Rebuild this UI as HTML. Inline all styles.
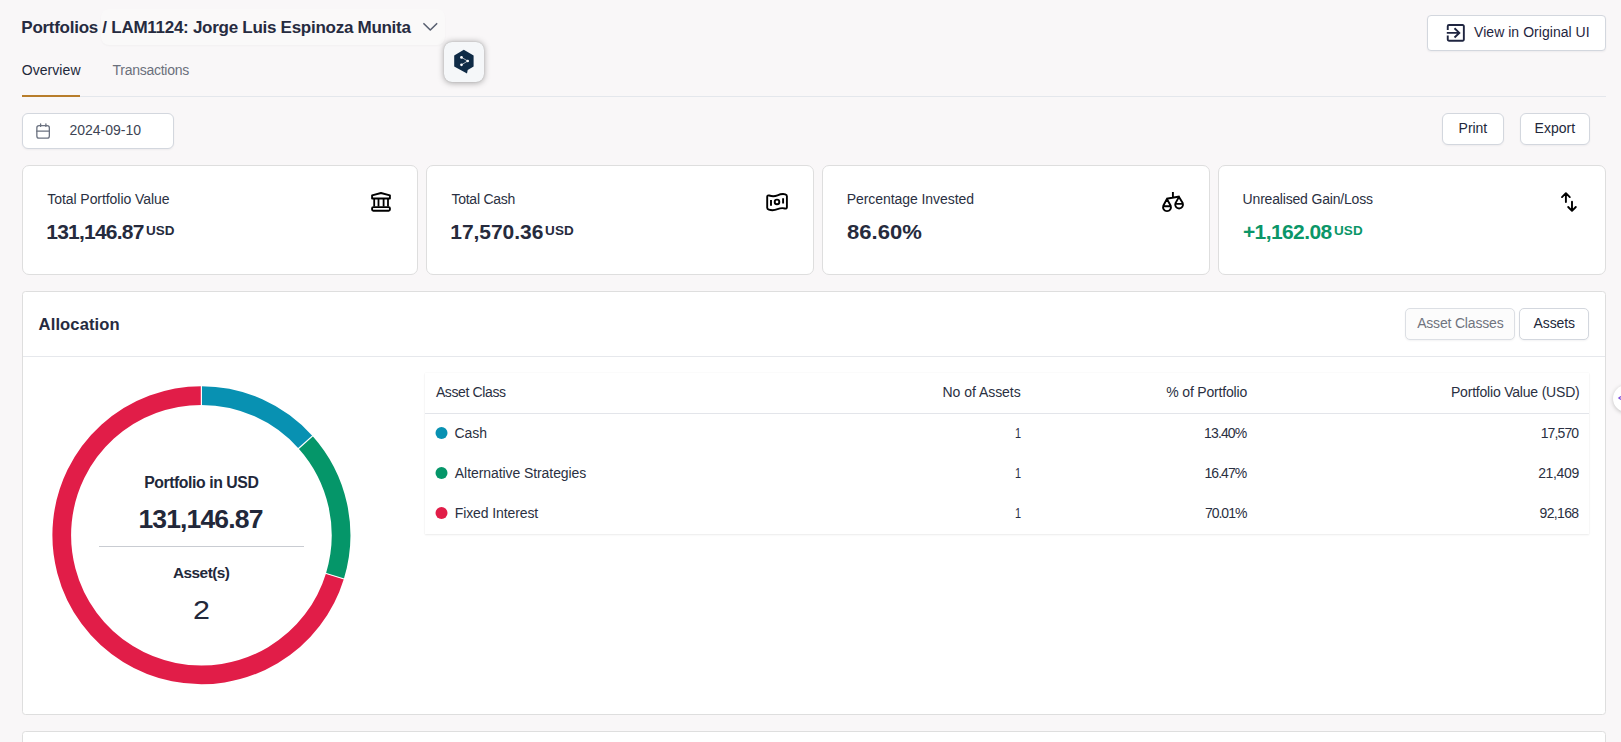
<!DOCTYPE html>
<html>
<head>
<meta charset="utf-8">
<title>Portfolio</title>
<style>
*{box-sizing:border-box;margin:0;padding:0}
html,body{width:1621px;height:742px;overflow:hidden;background:#f9f7f8;font-family:"Liberation Sans",sans-serif;color:#22283a}
.abs{position:absolute}
.t{position:absolute;white-space:nowrap;line-height:1}
.crumbbox{left:101px;top:9px;width:344px;height:36px;border-radius:8px;background:#faf9f9;box-shadow:0 1px 2px rgba(0,0,0,.03)}
.fab{left:444px;top:41.500px;width:40px;height:40px;border-radius:8px;background:#f5f7f9;box-shadow:0 0 1px rgba(0,0,0,.22),0 0.5px 6px rgba(0,0,0,.34)}
.tabline{left:22px;top:96px;width:1584px;height:1px;background:#e4e7ec}
.tabact{left:22px;top:95px;width:58px;height:2px;background:#b87d2b}
.box{position:absolute;background:#fff;border:1px solid #d3d7de;border-radius:6px;box-shadow:0 1px 2px rgba(16,24,40,.05)}
.card{position:absolute;top:165px;height:110px;background:#fff;border:1px solid #dedede;border-radius:7px}
.panel{position:absolute;left:22px;width:1584px;background:#fff;border:1px solid #dedede;border-radius:3.500px}
.dot{position:absolute;width:12px;height:12px;border-radius:50%}
</style>
</head>
<body>
<!-- header -->
<div class="abs crumbbox"></div>
<svg class="abs" style="left:421px;top:20px" width="18" height="14" viewBox="0 0 18 14"><path d="M2.9 3.7 L9.3 10 L15.7 3.7" fill="none" stroke="#596071" stroke-width="1.6" stroke-linecap="round" stroke-linejoin="round"/></svg>

<div class="abs fab"></div>
<svg class="abs" style="left:444px;top:41px" width="40" height="42" viewBox="444 41 40 42">
<path d="M463.800 49.800 L473.600 55.400 V66.600 L467.700 70 L467 73.500 L454.200 66.600 V55.400 Z" fill="#0f2b46"/>
<g stroke="#fff" stroke-width="0.650" fill="#fff"><path d="M461.500 57.400 L467.700 61 L461.500 64.800" fill="none"/><circle cx="461.500" cy="57.400" r="1.350" stroke="none"/><circle cx="467.700" cy="61" r="1.350" stroke="none"/><circle cx="461.500" cy="64.800" r="1.350" stroke="none"/></g>
</svg>

<div class="abs tabline"></div>
<div class="abs tabact"></div>

<div class="box" style="left:1427px;top:15px;width:179px;height:36px;border-radius:4px"></div>
<svg class="abs" style="left:1444px;top:21px" width="24" height="24" viewBox="1444 21 24 24"><g fill="none" stroke="#1f2540" stroke-width="1.900"><path d="M1447.750 29.900 V26.200 a1.200 1.200 0 0 1 1.200 -1.200 H1462.650 a1.200 1.200 0 0 1 1.200 1.200 V39.550 a1.200 1.200 0 0 1 -1.200 1.200 H1448.950 a1.200 1.200 0 0 1 -1.200 -1.200 V35.600"/><path d="M1446.800 32.900 H1459 M1454.500 28.300 L1459.300 32.900 L1454.500 37.500"/></g></svg>

<!-- date + actions -->
<div class="box" style="left:22px;top:113px;width:152px;height:36px;border-radius:6px"></div>
<svg class="abs" style="left:34px;top:121px" width="20" height="20" viewBox="34 121 20 20"><g fill="none" stroke="#6b7280" stroke-width="1.300"><rect x="36.850" y="125.600" width="12.500" height="12.500" rx="2.200"/><path d="M36.850 131.200 H49.350 M40.600 123.800 V126.400 M45.900 123.800 V126.400" stroke-linecap="round"/></g></svg>
<div class="box" style="left:1442px;top:113px;width:62px;height:31.500px"></div>
<div class="box" style="left:1520px;top:113px;width:70px;height:31.500px"></div>

<!-- cards -->
<div class="card" style="left:22px;width:396px"></div>
<div class="card" style="left:426px;width:388px"></div>
<div class="card" style="left:822px;width:388px"></div>
<div class="card" style="left:1218px;width:388px"></div>

<!-- card icons (page coordinates) -->
<svg class="abs" style="left:0;top:180px;pointer-events:none" width="1621" height="40" viewBox="0 180 1621 40">
<g fill="none" stroke="#000" stroke-width="1.900" stroke-linejoin="round" stroke-linecap="butt">
<!-- bank -->
<path d="M372.100 198.500 V195.300 L381 193 L389.900 195.300 V198.500 Z"/>
<path d="M374.200 199 V206.500 M378.500 199 V206.500 M383.600 199 V206.500 M388 199 V206.500" stroke-width="1.800"/>
<rect x="372.100" y="207.100" width="17.800" height="3.700" rx="1.200"/>
<!-- cash -->
<path d="M767.200 196.800 C767.200 195.600 768.200 195.200 769.200 195.500 C772.500 196.600 774.500 196.600 777.500 195.300 C780.500 194 783 193.600 785.300 194.300 C786.300 194.600 786.900 195.100 786.900 196.200 V207.200 C786.900 208.400 785.900 208.800 784.900 208.500 C782.500 207.800 780.500 208 777.500 209.200 C774.500 210.400 772 210.600 768.800 209.700 C767.800 209.400 767.200 208.900 767.200 207.800 Z"/>
<circle cx="777" cy="201.900" r="2.300"/>
<path d="M771 200.100 V205.800 M783.100 198.200 V203.600"/>
<!-- scale -->
<path d="M1172.900 192.100 V197.700 M1166.500 198.700 L1179.600 196.500"/>
<path d="M1166.900 199 L1163.300 205.800 A3.950 3.950 0 1 0 1170.700 205.800 Z M1163 206.200 H1171"/>
<path d="M1179 196.900 L1175.500 203.100 A3.900 3.900 0 1 0 1182.700 203.100 Z M1175.100 203.900 H1183"/>
<!-- arrows -->
<path d="M1565.900 202.100 V193.500 M1562 197.100 L1565.900 193.200 L1569.800 197.100" stroke-linecap="round"/>
<path d="M1572 201.700 V210.600 M1568.200 207 L1572 210.800 L1575.800 207" stroke-linecap="round"/>
</g>
</svg>

<!-- allocation panel -->
<div class="panel" style="top:291px;height:424px"></div>
<div class="abs" style="left:23px;top:356px;width:1582px;height:1px;background:#e6e8ec"></div>
<div class="box" style="left:1405px;top:308px;width:110px;height:32px;border-radius:5px;background:#fcfcfc;border-color:#dcdfe4"></div>
<div class="box" style="left:1519px;top:308px;width:70px;height:32px;border-radius:5px"></div>

<!-- donut -->
<svg class="abs" style="left:41px;top:375px" width="320" height="320" viewBox="-160 -160 320 320">
<g transform="translate(0.4 0.2)">
<g fill="none" stroke-width="18.700">
<path d="M0.00 -139.65 A139.65 139.65 0 0 1 104.15 -93.03" stroke="#0891b2"/>
<path d="M104.15 -93.03 A139.65 139.65 0 0 1 133.51 40.95" stroke="#059669"/>
<path d="M133.51 40.95 A139.65 139.65 0 1 1 -0.01 -139.65" stroke="#e11d48"/>
</g>
<g stroke="#fff" stroke-width="1.200">
<line x1="0.00" y1="-128.00" x2="0.00" y2="-151.00"/>
<line x1="95.47" y1="-85.27" x2="112.62" y2="-100.59"/>
<line x1="122.37" y1="37.53" x2="144.36" y2="44.27"/>
</g>
</g>
</svg>
<div class="abs" style="left:99px;top:546px;width:205px;height:1px;background:#c9ccd2"></div>

<!-- table -->
<div class="abs" style="left:425px;top:373px;width:1164px;height:161px;background:#fff;box-shadow:0 1px 2px rgba(0,0,0,.07),0 0 1px rgba(0,0,0,.08)"></div>
<div class="abs" style="left:425px;top:413px;width:1164px;height:1px;background:#e3e5ea"></div>
<svg class="abs" style="left:430px;top:420px" width="24" height="110" viewBox="430 420 24 110"><circle cx="441.500" cy="432.900" r="6" fill="#0891b2"/><circle cx="441.500" cy="472.900" r="6" fill="#059669"/><circle cx="441.500" cy="512.900" r="6" fill="#e11d48"/></svg>

<!-- side floating circle -->
<div class="abs" style="left:1612.500px;top:384.500px;width:27px;height:27px;border-radius:50%;background:#fff;box-shadow:0 1px 4px rgba(0,0,0,.22)"></div>
<svg class="abs" style="left:1617px;top:393px" width="4" height="10" viewBox="1617 393 4 10"><path d="M1621 396.400 L1618.800 398 L1621 399.600" fill="none" stroke="#7c4ddb" stroke-width="1.200"/></svg>

<!-- next panel -->
<div class="panel" style="top:731px;height:60px"></div>

<!-- texts -->
<div class="t" id="title" style="left:21.32px;top:19px;font-size:17px;font-weight:700;letter-spacing:-0.272px;color:#262b40">Portfolios / LAM1124: Jorge Luis Espinoza Munita</div>
<div class="t" id="tab1" style="left:21.68px;top:63px;font-size:14px;font-weight:400;letter-spacing:0.070px;color:#22283a">Overview</div>
<div class="t" id="tab2" style="left:112.62px;top:63px;font-size:14px;font-weight:400;letter-spacing:-0.273px;color:#6b707c">Transactions</div>
<div class="t" id="date" style="left:69.40px;top:123px;font-size:14px;font-weight:400;letter-spacing:0.002px;color:#3d4454">2024-09-10</div>
<div class="t" id="viewbtn" style="left:1474.05px;top:25px;font-size:14px;font-weight:400;letter-spacing:0.039px;color:#1f2540">View in Original UI</div>
<div class="t" id="print" style="left:1458.60px;top:121px;font-size:14px;font-weight:400;letter-spacing:-0.051px;color:#22283a">Print</div>
<div class="t" id="export" style="left:1534.60px;top:121px;font-size:14px;font-weight:400;letter-spacing:0.004px;color:#22283a">Export</div>
<div class="t" id="lbl1" style="left:47.31px;top:192px;font-size:14px;font-weight:400;letter-spacing:-0.065px;color:#2a3042">Total Portfolio Value</div>
<div class="t" id="lbl2" style="left:451.42px;top:192px;font-size:14px;font-weight:400;letter-spacing:-0.238px;color:#2a3042">Total Cash</div>
<div class="t" id="lbl3" style="left:846.70px;top:192px;font-size:14px;font-weight:400;letter-spacing:-0.063px;color:#2a3042">Percentage Invested</div>
<div class="t" id="lbl4" style="left:1242.60px;top:192px;font-size:14px;font-weight:400;letter-spacing:-0.179px;color:#2a3042">Unrealised Gain/Loss</div>
<div class="t" id="val1" style="left:46.26px;top:221px;font-size:21px;font-weight:700;letter-spacing:-0.782px;color:#262b3d">131,146.87</div>
<div class="t" id="val2" style="left:450.24px;top:221px;font-size:21px;font-weight:700;letter-spacing:-0.038px;color:#262b3d">17,570.36</div>
<div class="t" id="val3" style="left:847.11px;top:221px;font-size:21px;font-weight:700;letter-spacing:-0.003px;color:#262b3d;transform:scaleX(1.05);transform-origin:0 50%">86.60%</div>
<div class="t" id="val4" style="left:1242.90px;top:221px;font-size:21px;font-weight:700;letter-spacing:-0.587px;color:#0b9668">+1,162.08</div>
<div class="t" id="usd1" style="left:146.20px;top:225px;font-size:12.6px;font-weight:700;letter-spacing:0.005px;color:#262b3d;transform:scaleX(1.07);transform-origin:0 50%">USD</div>
<div class="t" id="usd2" style="left:545.30px;top:225px;font-size:12.6px;font-weight:700;letter-spacing:0.157px;color:#262b3d;transform:scaleX(1.07);transform-origin:0 50%">USD</div>
<div class="t" id="usd4" style="left:1334.30px;top:225px;font-size:12.6px;font-weight:700;letter-spacing:0.117px;color:#0b9668;transform:scaleX(1.07);transform-origin:0 50%">USD</div>
<div class="t" id="alloc" style="left:38.60px;top:317px;font-size:16.6px;font-weight:700;letter-spacing:0.095px;color:#262b40">Allocation</div>
<div class="t" id="bac" style="left:1417.15px;top:316px;font-size:14px;font-weight:400;letter-spacing:-0.183px;color:#70747f">Asset Classes</div>
<div class="t" id="bas" style="left:1533.50px;top:316px;font-size:14px;font-weight:400;letter-spacing:-0.104px;color:#22283a">Assets</div>
<div class="t" id="c1" style="left:144.13px;top:475px;font-size:15.8px;font-weight:700;letter-spacing:-0.423px;color:#22283a">Portfolio in USD</div>
<div class="t" id="c2" style="left:138.40px;top:506px;font-size:26.5px;font-weight:700;letter-spacing:-0.849px;color:#22283a">131,146.87</div>
<div class="t" id="c3" style="left:172.97px;top:565px;font-size:15.4px;font-weight:700;letter-spacing:-0.529px;color:#22283a">Asset(s)</div>
<div class="t" id="c4" style="left:192.71px;top:597px;font-size:26.5px;font-weight:400;letter-spacing:0.000px;color:#22283a;transform:scaleX(1.15);transform-origin:0 50%">2</div>
<div class="t" id="th1" style="left:435.88px;top:385px;font-size:14px;font-weight:400;letter-spacing:-0.369px;color:#2a3042">Asset Class</div>
<div class="t" id="th2" style="left:942.50px;top:385px;font-size:14px;font-weight:400;letter-spacing:-0.033px;color:#2a3042">No of Assets</div>
<div class="t" id="th3" style="left:1166.32px;top:385px;font-size:14px;font-weight:400;letter-spacing:-0.177px;color:#2a3042">% of Portfolio</div>
<div class="t" id="th4" style="left:1450.97px;top:385px;font-size:14px;font-weight:400;letter-spacing:-0.203px;color:#2a3042">Portfolio Value (USD)</div>
<div class="t" id="r1a" style="left:454.39px;top:426px;font-size:14px;font-weight:400;letter-spacing:-0.007px;color:#2a3042">Cash</div>
<div class="t" id="r1b" style="left:1015.06px;top:426px;font-size:14px;font-weight:400;letter-spacing:0.000px;color:#2a3042;transform:scaleX(0.78);transform-origin:0 50%">1</div>
<div class="t" id="r1c" style="left:1204.04px;top:426px;font-size:14px;font-weight:400;letter-spacing:-0.864px;color:#2a3042">13.40%</div>
<div class="t" id="r1d" style="left:1540.73px;top:426px;font-size:14px;font-weight:400;letter-spacing:-0.883px;color:#2a3042">17,570</div>
<div class="t" id="r2a" style="left:454.85px;top:466px;font-size:14px;font-weight:400;letter-spacing:-0.077px;color:#2a3042">Alternative Strategies</div>
<div class="t" id="r2b" style="left:1015.06px;top:466px;font-size:14px;font-weight:400;letter-spacing:0.000px;color:#2a3042;transform:scaleX(0.78);transform-origin:0 50%">1</div>
<div class="t" id="r2c" style="left:1204.52px;top:466px;font-size:14px;font-weight:400;letter-spacing:-0.951px;color:#2a3042">16.47%</div>
<div class="t" id="r2d" style="left:1538.19px;top:466px;font-size:14px;font-weight:400;letter-spacing:-0.364px;color:#2a3042">21,409</div>
<div class="t" id="r3a" style="left:454.72px;top:506px;font-size:14px;font-weight:400;letter-spacing:-0.102px;color:#2a3042">Fixed Interest</div>
<div class="t" id="r3b" style="left:1015.06px;top:506px;font-size:14px;font-weight:400;letter-spacing:0.000px;color:#2a3042;transform:scaleX(0.78);transform-origin:0 50%">1</div>
<div class="t" id="r3c" style="left:1205.01px;top:506px;font-size:14px;font-weight:400;letter-spacing:-1.030px;color:#2a3042">70.01%</div>
<div class="t" id="r3d" style="left:1539.52px;top:506px;font-size:14px;font-weight:400;letter-spacing:-0.652px;color:#2a3042">92,168</div>
</body>
</html>
